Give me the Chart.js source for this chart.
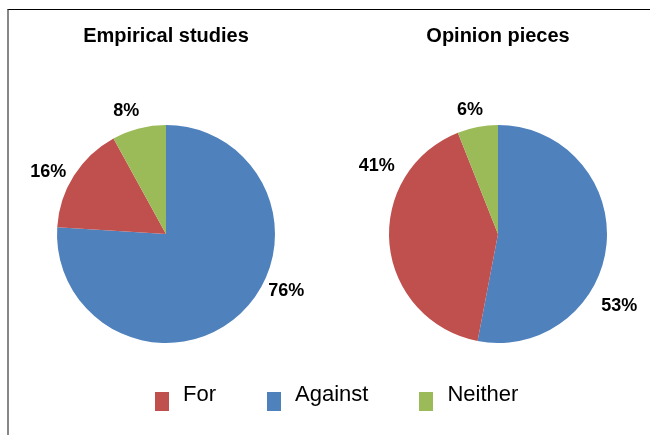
<!DOCTYPE html>
<html>
<head>
<meta charset="utf-8">
<script src="https://cdn.jsdelivr.net/npm/chart.js@4.4.1/dist/chart.umd.min.js"></script>
<style>
    body { margin: 0; background: #fff; }
    #wrap { position: relative; width: 650px; height: 435px; overflow: hidden; font-family: "Liberation Sans", Arial, sans-serif; }
    #frame { position: absolute; left: 7px; top: 9px; right: -5px; bottom: -5px; border-top: 1.5px solid #000; border-left: 2px solid #888; }
    canvas { position: absolute; top: 0; }
    #left { left: 0; }
    #right { left: 325px; }
    #legend { position: absolute; left: 155px; top: 381px; display: flex; font-size: 22px; color: #000; }
    .item { display: flex; align-items: flex-start; margin-right: 51px; }
    .box { width: 14px; height: 19px; margin-top: 11px; margin-right: 14px; }
</style>
</head>
<body>
<div id="wrap">
    <div id="frame"></div>
    <canvas id="left" width="325" height="435"></canvas>
    <canvas id="right" width="325" height="435"></canvas>
    <div id="legend"></div>
</div>
<script>
// slices, drawn clockwise from 12 o'clock
const categories = ["Against", "For", "Neither"];
const empiricalValues = [76, 16, 8];
const opinionValues = [53, 41, 6];
const legendOrder = ["For", "Against", "Neither"];

const colors = {
    "Against": "#4F81BD",
    "For": "#C0504D",
    "Neither": "#9BBB59"
};

// label placement round the pie: angle (deg, clockwise from top) and distance from centre
const pieLabels = {
    pieLabels: {
        id: "pieLabels",
        afterDatasetsDraw(chart, args, opts) {
            const ctx = chart.ctx;
            const meta = chart.getDatasetMeta(0);
            const values = chart.data.datasets[0].data;
            ctx.save();
            ctx.font = "bold 18px 'Liberation Sans', Arial, sans-serif";
            ctx.fillStyle = "#000";
            ctx.textAlign = "center";
            ctx.textBaseline = "middle";
            meta.data.forEach((arc, i) => {
                const a = opts.angles[i] * Math.PI / 180;
                const d = opts.dist[i];
                ctx.fillText(values[i] + "%", arc.x + d * Math.sin(a), arc.y - d * Math.cos(a));
            });
            ctx.restore();
        }
    }
}.pieLabels;

function makePie(canvasId, title, values, padLeft, padRight, labelPos) {
    new Chart(document.getElementById(canvasId), {
        type: "pie",
        data: {
            labels: categories,
            datasets: [{
                data: values,
                backgroundColor: categories.map(c => colors[c]),
                borderWidth: 0,
                hoverOffset: 0
            }]
        },
        options: {
            responsive: false,
            animation: false,
            layout: {
                padding: { left: padLeft, right: padRight, top: 20, bottom: 92 }
            },
            plugins: {
                legend: { display: false },
                tooltip: { enabled: false },
                title: {
                    display: true,
                    text: title,
                    color: "#000",
                    font: { family: "'Liberation Sans', Arial, sans-serif", size: 20, weight: "bold" },
                    padding: { top: 4.5, bottom: 76.5 }
                },
                pieLabels: labelPos
            }
        },
        plugins: [pieLabels]
    });
}

makePie("left", "Empirical studies", empiricalValues, 57, 50,
    { angles: [115.3, 297.7, 342], dist: [133, 133, 129] });
makePie("right", "Opinion pieces", opinionValues, 64, 43,
    { angles: [120.6, 299.3, 347.3], dist: [141, 139, 127] });

const legend = document.getElementById("legend");
legendOrder.forEach(name => {
    const item = document.createElement("div");
    item.className = "item";
    const box = document.createElement("div");
    box.className = "box";
    box.style.background = colors[name];
    const label = document.createElement("span");
    label.textContent = name;
    item.appendChild(box);
    item.appendChild(label);
    legend.appendChild(item);
});
</script>
</body>
</html>
